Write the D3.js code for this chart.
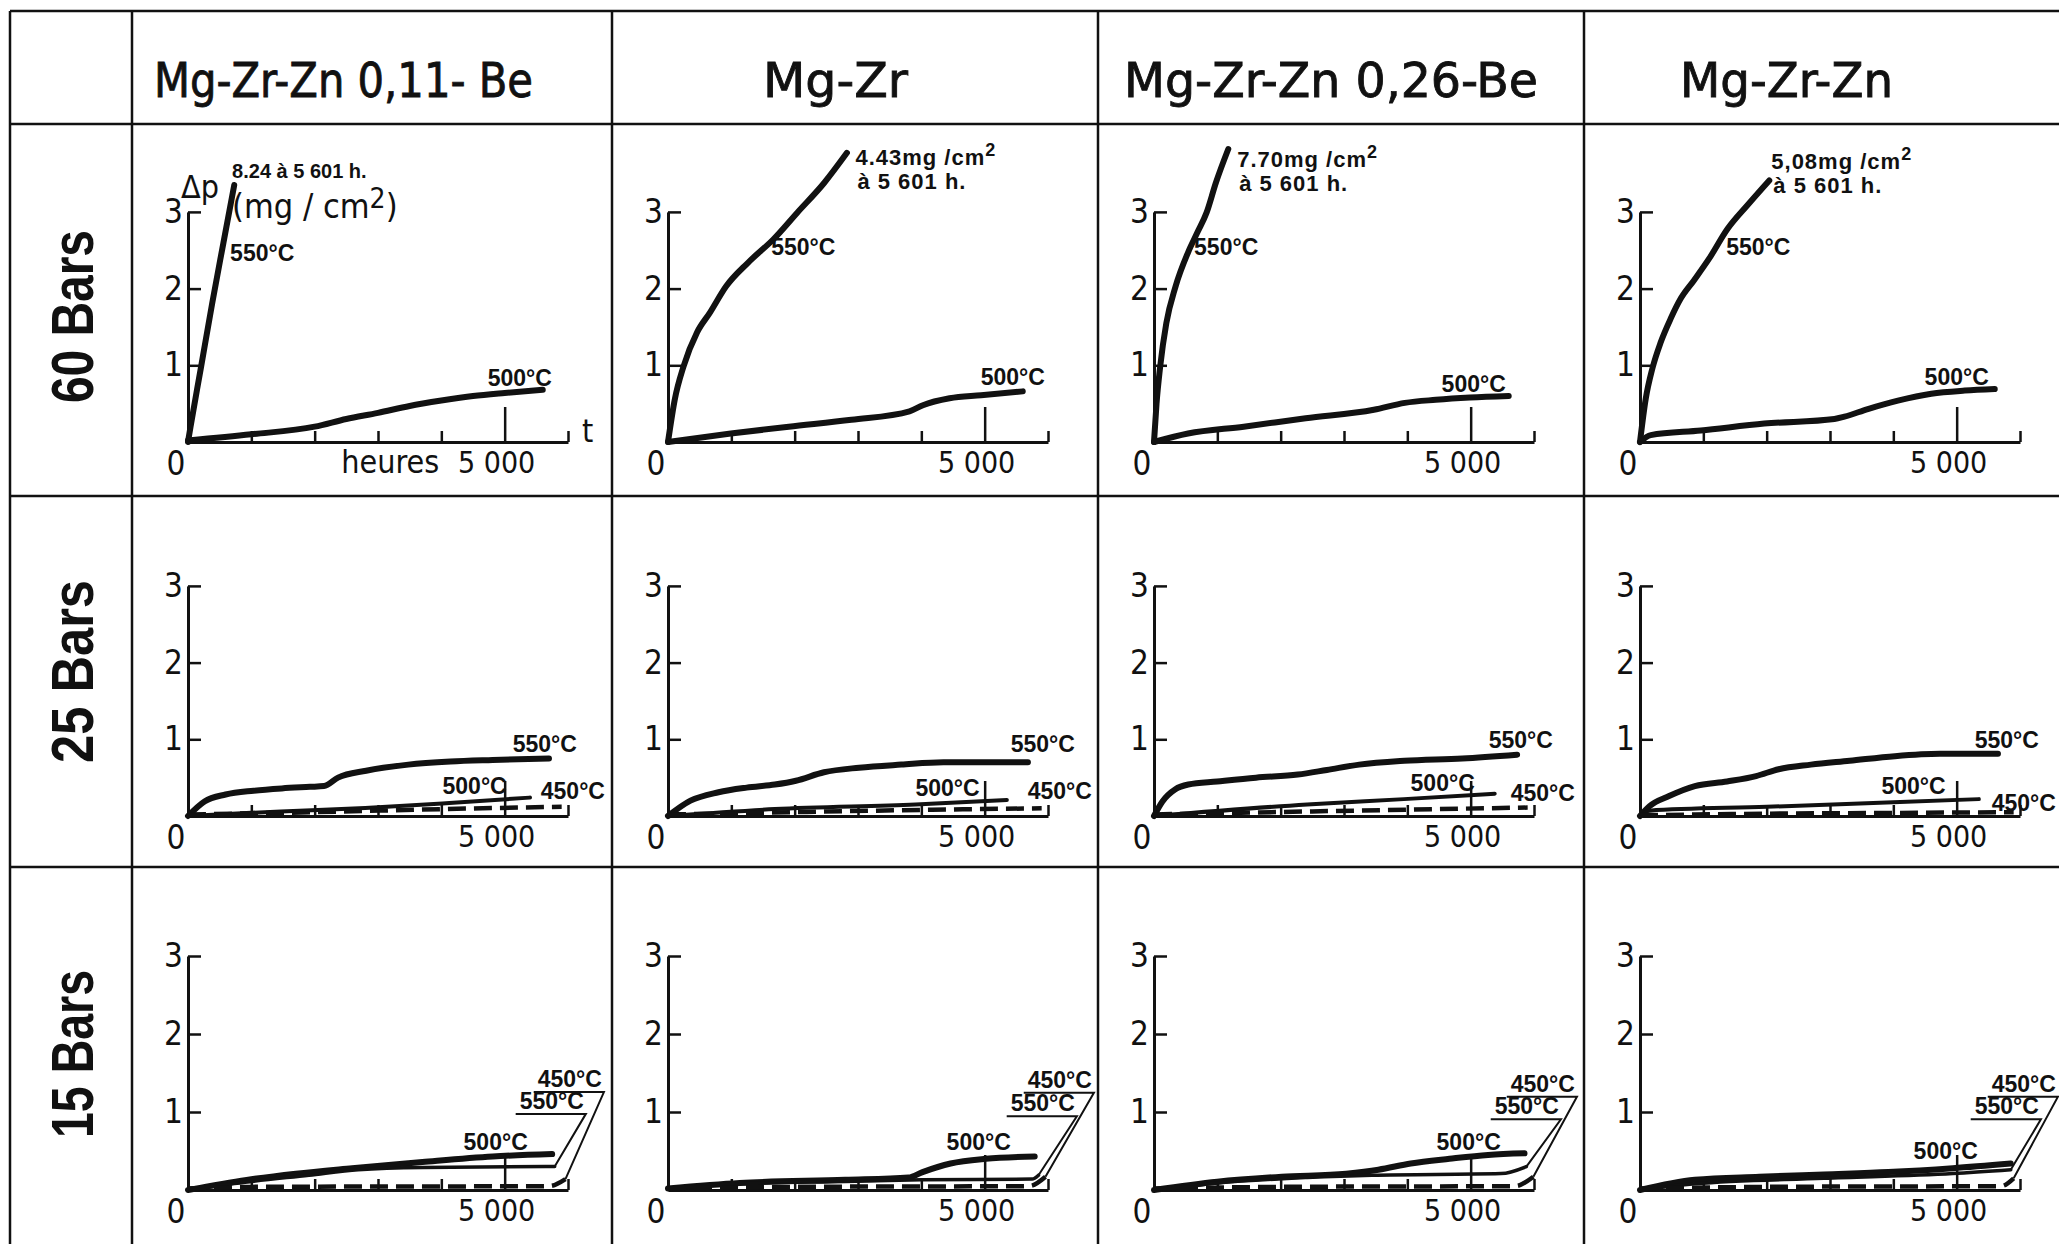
<!DOCTYPE html>
<html>
<head>
<meta charset="utf-8">
<style>
body { margin: 0; background: #fff; }
svg { display: block; color: #111; }
</style>
</head>
<body>
<svg width="2059" height="1244"></svg>
<script src="https://d3js.org/d3.v7.min.js"></script>
<script>

// columns / rows of the table
var alloys = ['Mg-Zr-Zn 0,11- Be', 'Mg-Zr', 'Mg-Zr-Zn 0,26-Be', 'Mg-Zr-Zn']
var pressures = ['60 Bars', '25 Bars', '15 Bars']
var rowTemps = [[550, 500], [550, 500, 450], [500, 550, 450]]

var yTicks = [1, 2, 3]
var xTicks = [1000, 2000, 3000, 4000, 5000, 6000]

// weight gain at the end of the 60 bars runs (off the scale)
var finalGain60 = ['8.24', '4.43', '7.70', '5,08']
var finalHours = '5 601'

// curves: [hours, delta p in mg/cm2]
// 60 bars
var be011_60_550 = [[0, 0], [40, 0.2], [200, 0.95], [380, 1.8], [560, 2.6], [730, 3.35]]
var be011_60_500 = [[0, 0.02], [1000, 0.1], [2000, 0.2], [2500, 0.3], [3000, 0.38], [3500, 0.47], [4000, 0.54], [4500, 0.6], [5000, 0.64], [5601, 0.68]]
var zr_60_550 = [[0, 0], [106, 0.55], [247, 0.99], [459, 1.43], [665, 1.69], [918, 2.03], [1266, 2.34], [1661, 2.64], [2041, 2.99], [2468, 3.38], [2825, 3.77]]
var zr_60_500 = [[0, 0], [992, 0.11], [1907, 0.2], [2896, 0.29], [3813, 0.4], [4025, 0.48], [4446, 0.57], [4944, 0.61], [5601, 0.66]]
var be026_60_550 = [[0, 0], [40, 0.5], [97, 0.98], [195, 1.55], [341, 2.03], [537, 2.47], [684, 2.73], [830, 2.99], [977, 3.38], [1173, 3.82]]
var be026_60_500 = [[0, 0], [537, 0.11], [1417, 0.2], [2395, 0.31], [3471, 0.42], [3960, 0.51], [4449, 0.55], [4987, 0.58], [5601, 0.6]]
var zn_60_550 = [[0, 0], [90, 0.56], [196, 0.96], [327, 1.3], [485, 1.61], [643, 1.87], [854, 2.11], [1091, 2.39], [1383, 2.78], [1699, 3.09], [2041, 3.41]]
var zn_60_500 = [[0, 0], [169, 0.09], [960, 0.15], [1962, 0.24], [3070, 0.3], [3228, 0.33], [3597, 0.43], [4072, 0.54], [4600, 0.63], [5127, 0.67], [5601, 0.69]]

// 25 bars
var be011_25_550 = [[0, 0], [261, 0.19], [594, 0.28], [1037, 0.33], [1481, 0.36], [1925, 0.38], [2147, 0.39], [2369, 0.5], [2813, 0.59], [3479, 0.67], [4145, 0.71], [4810, 0.73], [5700, 0.75]]
var be011_25_500 = [[0, 0], [1465, 0.06], [2797, 0.105], [4129, 0.17], [5400, 0.24]]
var be011_25_450 = [[0, 0.02], [2000, 0.05], [4000, 0.09], [5900, 0.12]]
var zr_25_550 = [[0, 0], [355, 0.2], [798, 0.31], [1242, 0.37], [1687, 0.41], [2019, 0.46], [2463, 0.57], [3017, 0.63], [3684, 0.67], [4350, 0.7], [5016, 0.7], [5683, 0.7]]
var zr_25_500 = [[0, 0], [1687, 0.09], [3908, 0.15], [5350, 0.21]]
var zr_25_450 = [[0, 0.02], [2000, 0.05], [4000, 0.08], [5900, 0.1]]
var be026_25_550 = [[0, 0], [133, 0.19], [338, 0.35], [541, 0.41], [999, 0.45], [1610, 0.5], [2271, 0.54], [2730, 0.6], [3240, 0.67], [3952, 0.72], [4868, 0.75], [5733, 0.8]]
var be026_25_500 = [[0, 0], [2418, 0.15], [3945, 0.22], [5380, 0.29]]
var be026_25_450 = [[0, 0.02], [2500, 0.06], [4500, 0.09], [5900, 0.11]]
var zn_25_550 = [[0, 0], [154, 0.13], [459, 0.26], [866, 0.39], [1375, 0.45], [1833, 0.52], [2189, 0.61], [2698, 0.67], [3310, 0.72], [4023, 0.78], [4735, 0.81], [5652, 0.81]]
var zn_25_500 = [[0, 0], [150, 0.07], [2000, 0.12], [4000, 0.18], [5350, 0.22]]
var zn_25_450 = [[0, 0.01], [2000, 0.03], [4000, 0.04], [5900, 0.05]]

// 15 bars
var be011_15_500 = [[0, 0], [926, 0.13], [1703, 0.21], [2592, 0.28], [3701, 0.36], [4811, 0.43], [5750, 0.46]]
var be011_15_550 = [[0, 0], [900, 0.1], [1910, 0.19], [2687, 0.26], [3701, 0.29], [5650, 0.3], [5790, 0.3]]
var be011_15_450 = [[0, 0.02], [1000, 0.04], [5700, 0.05], [5960, 0.14]]
var zr_15_500 = [[0, 0.02], [1133, 0.09], [2797, 0.13], [3797, 0.16], [4019, 0.23], [4462, 0.34], [5017, 0.4], [5790, 0.43]]
var zr_15_550 = [[0, 0.02], [1133, 0.08], [2797, 0.11], [4000, 0.13], [5750, 0.14], [5850, 0.19]]
var zr_15_450 = [[0, 0.02], [2000, 0.04], [5700, 0.05], [5960, 0.17]]
var be026_15_500 = [[0, 0], [999, 0.106], [2017, 0.17], [3035, 0.21], [3544, 0.26], [4054, 0.34], [4665, 0.4], [5275, 0.45], [5850, 0.47]]
var be026_15_550 = [[0, 0], [999, 0.09], [2418, 0.16], [3437, 0.19], [5479, 0.21], [5880, 0.3]]
var be026_15_450 = [[0, 0.02], [2000, 0.04], [5700, 0.05], [5990, 0.17]]
var zn_15_500 = [[0, 0], [866, 0.13], [1884, 0.17], [2902, 0.2], [3921, 0.23], [4939, 0.28], [5854, 0.34]]
var zn_15_550 = [[0, 0], [866, 0.08], [2902, 0.15], [4939, 0.21], [5854, 0.26]]
var zn_15_450 = [[0, 0.02], [2000, 0.04], [5700, 0.05], [5900, 0.15]]

// table of curves, same order as rowTemps
var panelCurves = [
  [[be011_60_550, be011_60_500], [zr_60_550, zr_60_500], [be026_60_550, be026_60_500], [zn_60_550, zn_60_500]],
  [[be011_25_550, be011_25_500, be011_25_450], [zr_25_550, zr_25_500, zr_25_450], [be026_25_550, be026_25_500, be026_25_450], [zn_25_550, zn_25_500, zn_25_450]],
  [[be011_15_500, be011_15_550, be011_15_450], [zr_15_500, zr_15_550, zr_15_450], [be026_15_500, be026_15_550, be026_15_450], [zn_15_500, zn_15_550, zn_15_450]]
]

// where the temperature labels sit, in chart units [hours, mg/cm2]
var labelSpots = [
  [[[665, 2.36], [4731, 0.73]], [[1630, 2.44], [4937, 0.74]], [[633, 2.44], [4541, 0.65]], [[1361, 2.44], [4494, 0.74]]],
  [[[5127, 0.83], [4019, 0.29], [5570, 0.22]], [[5411, 0.83], [3908, 0.26], [5680, 0.22]], [[5285, 0.89], [4051, 0.33], [5633, 0.2]], [[5285, 0.89], [3813, 0.29], [5554, 0.07]]],
  [[[4351, 0.51], [5237, 1.04], [5522, 1.32]], [[4399, 0.51], [5411, 1.01], [5680, 1.31]], [[4462, 0.51], [5380, 0.97], [5633, 1.26]], [[4320, 0.4], [5285, 0.97], [5554, 1.26]]]
]
var noteSpots = [[696, 3.44], [2959, 3.61], [1313, 3.59], [2073, 3.56]]

// page layout
var narrow = '"Liberation Sans Narrow", "DejaVu Sans Condensed", "Arial Narrow", sans-serif'
var plain = '"Liberation Sans", Arial, sans-serif'
var vLines = [10, 132, 612, 1098, 1584]
var hLines = [11, 124, 496, 867]
var headerX = [154, 763, 1124, 1680]
var headerW = [379, 145, 414, 213]
var rowLabelY = [403, 763, 1138]
var rowLabelW = [173, 183, 168]
var originX = [188, 668, 1154, 1640]
var originY = [442, 816, 1190]
var unitY = [76.7, 76.7, 78]
var axisLen = 380

var svg = d3.select('svg')
svg.append('rect').attr('width', 2059).attr('height', 1244).attr('fill', '#fff')

// table grid
var grid = svg.append('g').attr('stroke', '#111').attr('stroke-width', 2.5)
grid.selectAll('.v').data(vLines).enter().append('line')
  .attr('x1', function (d) { return d }).attr('x2', function (d) { return d })
  .attr('y1', 11).attr('y2', 1244)
grid.selectAll('.h').data(hLines).enter().append('line')
  .attr('x1', 10).attr('x2', 2059)
  .attr('y1', function (d) { return d }).attr('y2', function (d) { return d })

// column headers
svg.append('g').selectAll('text').data(alloys).enter().append('text')
  .attr('x', function (d, i) { return headerX[i] })
  .attr('y', 97)
  .attr('textLength', function (d, i) { return headerW[i] })
  .attr('lengthAdjust', 'spacingAndGlyphs')
  .attr('font-family', narrow).attr('font-size', 48).attr('fill', '#111')
  .attr('stroke', '#111').attr('stroke-width', 0.8)
  .text(function (d) { return d })

// row headers, rotated
svg.append('g').selectAll('text').data(pressures).enter().append('text')
  .attr('transform', function (d, i) { return 'translate(93,' + rowLabelY[i] + ') rotate(-90)' })
  .attr('textLength', function (d, i) { return rowLabelW[i] })
  .attr('lengthAdjust', 'spacingAndGlyphs')
  .attr('font-family', plain).attr('font-weight', 'bold').attr('font-size', 60).attr('fill', '#111')
  .text(function (d) { return d })

function drawPanel(r, c) {
  var ox = originX[c]
  var oy = originY[r]
  var x = d3.scaleLinear().domain([0, 6000]).range([ox, ox + axisLen])
  var y = d3.scaleLinear().domain([0, 3]).range([oy, oy - unitY[r] * 3])
  var g = svg.append('g')

  // time axis, ticks pointing up, the 5 000 one taller
  var gx = g.append('g').attr('transform', 'translate(0,' + oy + ')')
    .call(d3.axisTop(x).tickValues(xTicks).tickSizeInner(11).tickSizeOuter(0).tickFormat(''))
  gx.select('.domain').attr('stroke-width', 3)
  gx.selectAll('.tick line').attr('stroke-width', 2.5)
    .attr('y2', function (d) { return d === 5000 ? -35 : -11 })

  // weight axis, ticks pointing right
  var gy = g.append('g').attr('transform', 'translate(' + ox + ',0)')
    .call(d3.axisLeft(y).tickValues(yTicks).tickSizeInner(-13).tickSizeOuter(0).tickPadding(5).tickFormat(d3.format('d')))
  gy.select('.domain').attr('stroke-width', 3)
  gy.selectAll('.tick line').attr('stroke-width', 2.5)
  gy.selectAll('.tick text').attr('font-family', narrow).attr('font-size', 33).attr('fill', '#111')

  g.append('text').attr('x', ox - 12).attr('y', oy + 33)
    .attr('text-anchor', 'middle').attr('font-family', narrow).attr('font-size', 33).attr('fill', '#111')
    .text('0')
  g.append('text').attr('x', x(5000) - 8).attr('y', oy + 31)
    .attr('text-anchor', 'middle').attr('font-family', narrow).attr('font-size', 30).attr('fill', '#111')
    .text('5 000')

  var line = d3.line()
    .x(function (d) { return x(d[0]) })
    .y(function (d) { return y(d[1]) })
    .curve(d3.curveMonotoneX)

  var temps = rowTemps[r]
  panelCurves[r][c].forEach(function (pts, k) {
    var t = temps[k]
    var w = 6
    if (r === 1 && t === 500) w = 4
    if (r === 2 && t === 550) w = 3.5
    if (t === 450) w = 4.5
    g.append('path').datum(pts)
      .attr('d', line)
      .attr('fill', 'none')
      .attr('stroke', '#111')
      .attr('stroke-width', w)
      .attr('stroke-linecap', t === 450 ? 'butt' : 'round')
      .attr('stroke-linejoin', 'round')
      .attr('stroke-dasharray', t === 450 ? '18,8' : null)

    var spot = labelSpots[r][c][k]
    var lx = x(spot[0])
    var ly = y(spot[1])
    var label = g.append('text').attr('x', lx).attr('y', ly)
      .attr('font-family', plain).attr('font-weight', 'bold').attr('font-size', 23).attr('fill', '#111')
      .text(t + '°C')

    // 15 bars: underlined labels with a leader to the curve end
    if (r === 2 && t !== 500) {
      var lw = label.node().getComputedTextLength()
      var end = pts[pts.length - 1]
      g.append('path')
        .attr('d', 'M' + (lx - 4) + ',' + (ly + 5) + 'H' + (lx + lw + 2) + 'L' + x(end[0]) + ',' + y(end[1]))
        .attr('fill', 'none').attr('stroke', '#111').attr('stroke-width', 2)
    }
  })

  // 60 bars: final value at 5 601 h
  if (r === 0) {
    var nx = x(noteSpots[c][0])
    var ny = y(noteSpots[c][1])
    var note = g.append('g').attr('font-family', plain).attr('font-weight', 'bold').attr('fill', '#111')
    if (c === 0) {
      note.append('text').attr('x', nx).attr('y', ny).attr('font-size', 20)
        .text(finalGain60[c] + '  à ' + finalHours + ' h.')
    } else {
      var t1 = note.append('text').attr('x', nx).attr('y', ny).attr('font-size', 22).attr('letter-spacing', 1)
      t1.append('tspan').text(finalGain60[c] + 'mg /cm')
      t1.append('tspan').attr('dy', -9).attr('font-size', 18).text('2')
      note.append('text').attr('x', nx + 2).attr('y', ny + 24).attr('font-size', 22).attr('letter-spacing', 1)
        .text('à ' + finalHours + ' h.')
    }
  }

  // axis titles only on the first panel
  if (r === 0 && c === 0) {
    g.append('text').attr('x', ox - 7).attr('y', y(3.18))
      .attr('font-family', narrow).attr('font-size', 32).attr('fill', '#111').text('Δp')
    var unit = g.append('text').attr('x', x(696)).attr('y', y(2.92))
      .attr('font-family', narrow).attr('font-size', 34).attr('fill', '#111')
    unit.append('tspan').text('(mg / cm')
    unit.append('tspan').attr('dy', -10).attr('font-size', 28).text('2')
    unit.append('tspan').attr('dy', 10).text(')')
    g.append('text').attr('x', x(6000) + 14).attr('y', oy)
      .attr('font-family', narrow).attr('font-size', 32).attr('fill', '#111').text('t')
    g.append('text').attr('x', x(2420)).attr('y', oy + 31)
      .attr('font-family', narrow).attr('font-size', 32).attr('fill', '#111').text('heures')
  }
}

for (var r = 0; r < pressures.length; r++) {
  for (var c = 0; c < alloys.length; c++) {
    drawPanel(r, c)
  }
}

</script>
</body>
</html>
